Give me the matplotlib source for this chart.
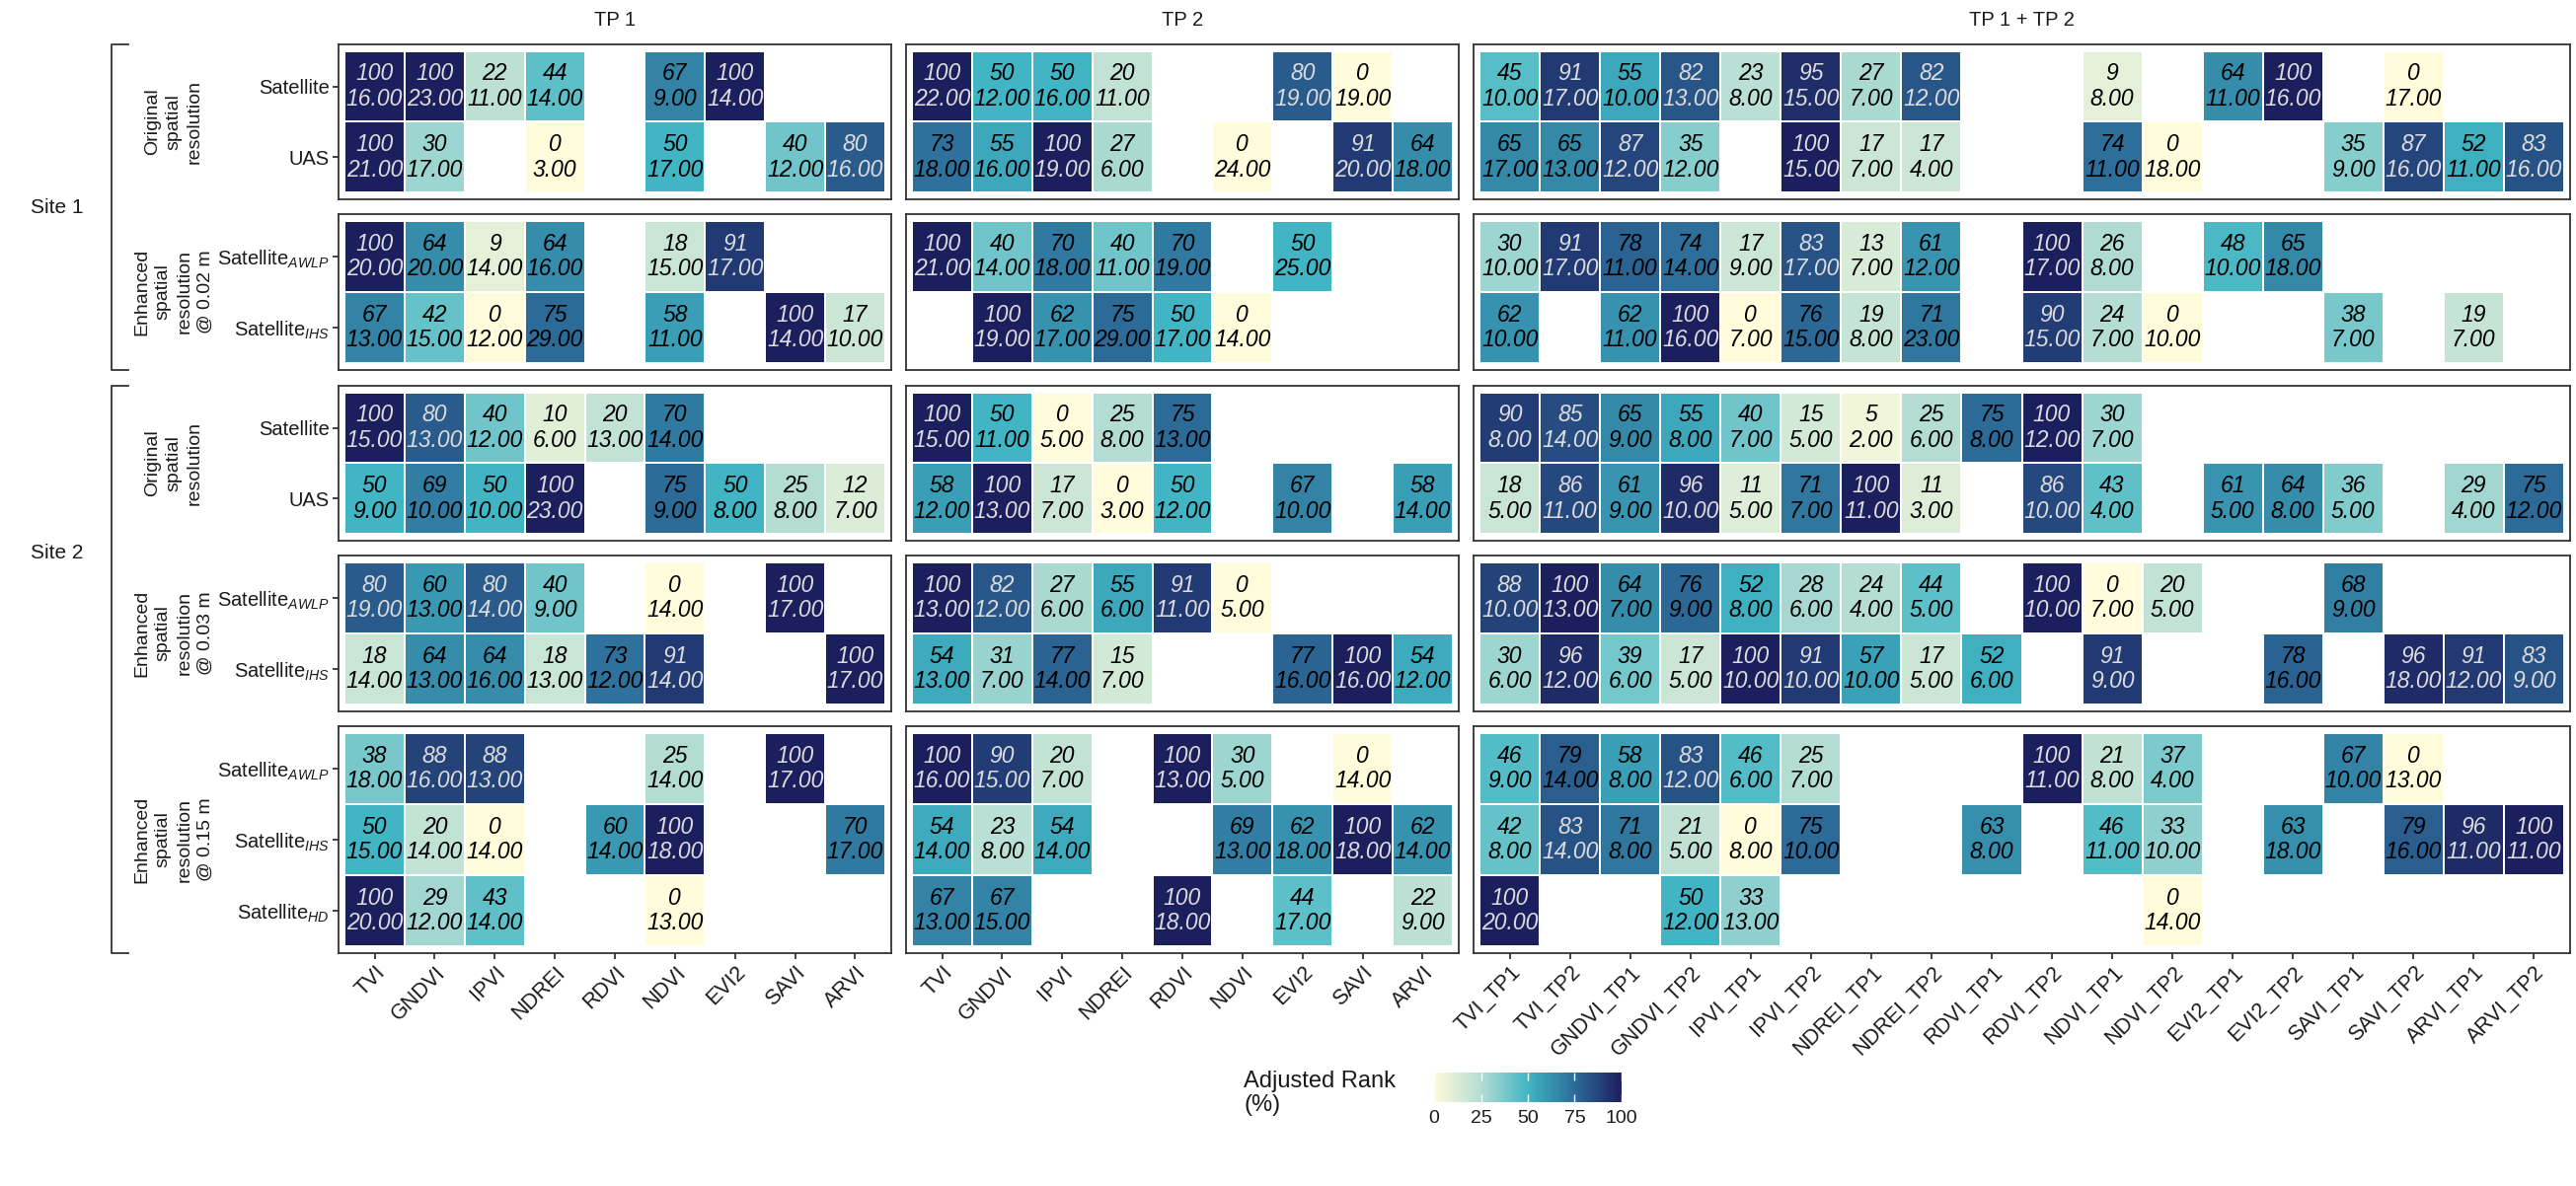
import numpy as np
import matplotlib
matplotlib.use("Agg")
import matplotlib.pyplot as plt
from matplotlib.colors import LinearSegmentedColormap
from matplotlib.lines import Line2D
from matplotlib.cm import ScalarMappable
from matplotlib.colors import Normalize

plt.rcParams['font.family'] = ['Liberation Sans', 'DejaVu Sans']
plt.rcParams['mathtext.fontset'] = 'custom'
plt.rcParams['mathtext.rm'] = 'Liberation Sans'
plt.rcParams['mathtext.it'] = 'Liberation Sans:italic'

N = np.nan

indices = ["TVI", "GNDVI", "IPVI", "NDREI", "RDVI", "NDVI", "EVI2", "SAVI", "ARVI"]
indices_both = ["TVI_TP1", "TVI_TP2", "GNDVI_TP1", "GNDVI_TP2", "IPVI_TP1", "IPVI_TP2",
                "NDREI_TP1", "NDREI_TP2", "RDVI_TP1", "RDVI_TP2", "NDVI_TP1", "NDVI_TP2",
                "EVI2_TP1", "EVI2_TP2", "SAVI_TP1", "SAVI_TP2", "ARVI_TP1", "ARVI_TP2"]
col_titles = ["TP 1", "TP 2", "TP 1 + TP 2"]

row_titles = ["Original\nspatial\nresolution",
              "Enhanced\nspatial\nresolution\n@ 0.02 m",
              "Original\nspatial\nresolution",
              "Enhanced\nspatial\nresolution\n@ 0.03 m",
              "Enhanced\nspatial\nresolution\n@ 0.15 m"]
row_labels = [["Satellite", "UAS"],
              ["Satellite$_{AWLP}$", "Satellite$_{IHS}$"],
              ["Satellite", "UAS"],
              ["Satellite$_{AWLP}$", "Satellite$_{IHS}$"],
              ["Satellite$_{AWLP}$", "Satellite$_{IHS}$", "Satellite$_{HD}$"]]
sites = ["Site 1", "Site 2"]

# ---- site 1, original resolution (Satellite, UAS)
s1o_tp1_rank = [[100, 100, 22, 44, N, 67, 100, N, N],
                [100, 30, N, 0, N, 50, N, 40, 80]]
s1o_tp1_val = [[16, 23, 11, 14, N, 9, 14, N, N],
               [21, 17, N, 3, N, 17, N, 12, 16]]
s1o_tp2_rank = [[100, 50, 50, 20, N, N, 80, 0, N],
                [73, 55, 100, 27, N, 0, N, 91, 64]]
s1o_tp2_val = [[22, 12, 16, 11, N, N, 19, 19, N],
               [18, 16, 19, 6, N, 24, N, 20, 18]]
s1o_both_rank = [[45, 91, 55, 82, 23, 95, 27, 82, N, N, 9, N, 64, 100, N, 0, N, N],
                 [65, 65, 87, 35, N, 100, 17, 17, N, N, 74, 0, N, N, 35, 87, 52, 83]]
s1o_both_val = [[10, 17, 10, 13, 8, 15, 7, 12, N, N, 8, N, 11, 16, N, 17, N, N],
                [17, 13, 12, 12, N, 15, 7, 4, N, N, 11, 18, N, N, 9, 16, 11, 16]]

# ---- site 1, enhanced @ 0.02 m (AWLP, IHS)
s1e_tp1_rank = [[100, 64, 9, 64, N, 18, 91, N, N],
                [67, 42, 0, 75, N, 58, N, 100, 17]]
s1e_tp1_val = [[20, 20, 14, 16, N, 15, 17, N, N],
               [13, 15, 12, 29, N, 11, N, 14, 10]]
s1e_tp2_rank = [[100, 40, 70, 40, 70, N, 50, N, N],
                [N, 100, 62, 75, 50, 0, N, N, N]]
s1e_tp2_val = [[21, 14, 18, 11, 19, N, 25, N, N],
               [N, 19, 17, 29, 17, 14, N, N, N]]
s1e_both_rank = [[30, 91, 78, 74, 17, 83, 13, 61, N, 100, 26, N, 48, 65, N, N, N, N],
                 [62, N, 62, 100, 0, 76, 19, 71, N, 90, 24, 0, N, N, 38, N, 19, N]]
s1e_both_val = [[10, 17, 11, 14, 9, 17, 7, 12, N, 17, 8, N, 10, 18, N, N, N, N],
                [10, N, 11, 16, 7, 15, 8, 23, N, 15, 7, 10, N, N, 7, N, 7, N]]

# ---- site 2, original resolution (Satellite, UAS)
s2o_tp1_rank = [[100, 80, 40, 10, 20, 70, N, N, N],
                [50, 69, 50, 100, N, 75, 50, 25, 12]]
s2o_tp1_val = [[15, 13, 12, 6, 13, 14, N, N, N],
               [9, 10, 10, 23, N, 9, 8, 8, 7]]
s2o_tp2_rank = [[100, 50, 0, 25, 75, N, N, N, N],
                [58, 100, 17, 0, 50, N, 67, N, 58]]
s2o_tp2_val = [[15, 11, 5, 8, 13, N, N, N, N],
               [12, 13, 7, 3, 12, N, 10, N, 14]]
s2o_both_rank = [[90, 85, 65, 55, 40, 15, 5, 25, 75, 100, 30, N, N, N, N, N, N, N],
                 [18, 86, 61, 96, 11, 71, 100, 11, N, 86, 43, N, 61, 64, 36, N, 29, 75]]
s2o_both_val = [[8, 14, 9, 8, 7, 5, 2, 6, 8, 12, 7, N, N, N, N, N, N, N],
                [5, 11, 9, 10, 5, 7, 11, 3, N, 10, 4, N, 5, 8, 5, N, 4, 12]]

# ---- site 2, enhanced @ 0.03 m (AWLP, IHS)
s2a_tp1_rank = [[80, 60, 80, 40, N, 0, N, 100, N],
                [18, 64, 64, 18, 73, 91, N, N, 100]]
s2a_tp1_val = [[19, 13, 14, 9, N, 14, N, 17, N],
               [14, 13, 16, 13, 12, 14, N, N, 17]]
s2a_tp2_rank = [[100, 82, 27, 55, 91, 0, N, N, N],
                [54, 31, 77, 15, N, N, 77, 100, 54]]
s2a_tp2_val = [[13, 12, 6, 6, 11, 5, N, N, N],
               [13, 7, 14, 7, N, N, 16, 16, 12]]
s2a_both_rank = [[88, 100, 64, 76, 52, 28, 24, 44, N, 100, 0, 20, N, N, 68, N, N, N],
                 [30, 96, 39, 17, 100, 91, 57, 17, 52, N, 91, N, N, 78, N, 96, 91, 83]]
s2a_both_val = [[10, 13, 7, 9, 8, 6, 4, 5, N, 10, 7, 5, N, N, 9, N, N, N],
                [6, 12, 6, 5, 10, 10, 10, 5, 6, N, 9, N, N, 16, N, 18, 12, 9]]

# ---- site 2, enhanced @ 0.15 m (AWLP, IHS, HD)
s2b_tp1_rank = [[38, 88, 88, N, N, 25, N, 100, N],
                [50, 20, 0, N, 60, 100, N, N, 70],
                [100, 29, 43, N, N, 0, N, N, N]]
s2b_tp1_val = [[18, 16, 13, N, N, 14, N, 17, N],
               [15, 14, 14, N, 14, 18, N, N, 17],
               [20, 12, 14, N, N, 13, N, N, N]]
s2b_tp2_rank = [[100, 90, 20, N, 100, 30, N, 0, N],
                [54, 23, 54, N, N, 69, 62, 100, 62],
                [67, 67, N, N, 100, N, 44, N, 22]]
s2b_tp2_val = [[16, 15, 7, N, 13, 5, N, 14, N],
               [14, 8, 14, N, N, 13, 18, 18, 14],
               [13, 15, N, N, 18, N, 17, N, 9]]
s2b_both_rank = [[46, 79, 58, 83, 46, 25, N, N, N, 100, 21, 37, N, N, 67, 0, N, N],
                 [42, 83, 71, 21, 0, 75, N, N, 63, N, 46, 33, N, 63, N, 79, 96, 100],
                 [100, N, N, 50, 33, N, N, N, N, N, N, 0, N, N, N, N, N, N]]
s2b_both_val = [[9, 14, 8, 12, 6, 7, N, N, N, 11, 8, 4, N, N, 10, 13, N, N],
                [8, 14, 8, 5, 8, 10, N, N, 8, N, 11, 10, N, 18, N, 16, 11, 11],
                [20, N, N, 12, 13, N, N, N, N, N, N, 14, N, N, N, N, N, N]]

panels = [
    [(s1o_tp1_rank, s1o_tp1_val), (s1o_tp2_rank, s1o_tp2_val), (s1o_both_rank, s1o_both_val)],
    [(s1e_tp1_rank, s1e_tp1_val), (s1e_tp2_rank, s1e_tp2_val), (s1e_both_rank, s1e_both_val)],
    [(s2o_tp1_rank, s2o_tp1_val), (s2o_tp2_rank, s2o_tp2_val), (s2o_both_rank, s2o_both_val)],
    [(s2a_tp1_rank, s2a_tp1_val), (s2a_tp2_rank, s2a_tp2_val), (s2a_both_rank, s2a_both_val)],
    [(s2b_tp1_rank, s2b_tp1_val), (s2b_tp2_rank, s2b_tp2_val), (s2b_both_rank, s2b_both_val)],
]
col_ticks = [indices, indices, indices_both]

cmap = LinearSegmentedColormap.from_list(
    "rank", ["#fffbdb", "#b3dcd3", "#41b6c4", "#2c6b98", "#1c1f5e"])

W, H = 2610, 1202
fig = plt.figure(figsize=(W / 100, H / 100), dpi=100)

col_x = [(343, 903), (918, 1478), (1493, 2604)]
row_y = [(45, 202), (217, 375), (391, 548), (563, 721), (736, 966)]


def px_axes(x0, x1, y0, y1):
    return fig.add_axes([x0 / W, 1 - y1 / H, (x1 - x0) / W, (y1 - y0) / H])


def draw_panel(ax, rank, val):
    r = np.array(rank, dtype=float)
    v = np.array(val, dtype=float)
    nr, nc = r.shape
    ax.pcolormesh(np.arange(nc + 1) - 0.5, np.arange(nr + 1) - 0.5,
                  np.ma.masked_invalid(r), cmap=cmap, vmin=0, vmax=100,
                  edgecolors="white", linewidth=1.2)
    for i in range(nr):
        for j in range(nc):
            if np.isnan(r[i, j]):
                continue
            c = "#dcdcdc" if r[i, j] >= 80 else "black"
            ax.text(j, i, "%d\n%.2f" % (r[i, j], v[i, j]), ha="center", va="center",
                    fontsize=16.5, style="italic", color=c, linespacing=1.15)
    ax.set_xlim(-0.6, nc - 0.4)
    ax.set_ylim(nr - 0.4, -0.6)
    for s in ax.spines.values():
        s.set_color("#333333")
        s.set_linewidth(1.3)
    ax.tick_params(length=4, width=1.3, color="#333333", labelcolor="#1a1a1a", pad=2.5)
    ax.tick_params(axis="y", labelsize=14.5)
    ax.tick_params(axis="x", labelsize=15.5)
    ax.set_xticks([])
    ax.set_yticks([])
    return nr, nc


for ri, (y0, y1) in enumerate(row_y):
    for ci, (x0, x1) in enumerate(col_x):
        ax = px_axes(x0, x1, y0, y1)
        rank, val = panels[ri][ci]
        nr, nc = draw_panel(ax, rank, val)
        if ci == 0:
            ax.set_yticks(range(nr))
            ax.set_yticklabels(row_labels[ri])
        if ri == len(row_y) - 1:
            ax.set_xticks(range(nc))
            ax.set_xticklabels(col_ticks[ci], rotation=45, ha="right", va="top",
                               rotation_mode="anchor")

for ci, (x0, x1) in enumerate(col_x):
    fig.text((x0 + x1) / 2 / W, 1 - 20 / H, col_titles[ci], ha="center", va="center",
             fontsize=14.5, color="#1a1a1a")

for ri, (y0, y1) in enumerate(row_y):
    fig.text(176 / W, 1 - (y0 + y1) / 2 / H, row_titles[ri], rotation=90, ha="center",
             va="center", multialignment="center", fontsize=14, color="#1a1a1a",
             linespacing=1.35)

# site brackets
for (y0, y1), ty, name in [((45, 375), 210, sites[0]), ((391, 966), 560, sites[1])]:
    xs = np.array([130, 113, 113, 130]) / W
    ys = 1 - np.array([y0, y0, y1, y1]) / H
    fig.add_artist(Line2D(xs, ys, color="#333333", lw=1.3))
    fig.text(58 / W, 1 - ty / H, name, ha="center", va="center", fontsize=15,
             color="#1a1a1a")

# colour bar
cax = px_axes(1453, 1643, 1087, 1117)
cb = fig.colorbar(ScalarMappable(norm=Normalize(0, 100), cmap=cmap), cax=cax,
                  orientation="horizontal", ticks=[0, 25, 50, 75, 100])
cb.outline.set_visible(False)
cax.tick_params(direction="in", color="white", length=6, width=1, top=True,
                labelsize=14, labelcolor="#1a1a1a", pad=6)
fig.text(1260 / W, 1 - 1108 / H, "Adjusted Rank\n(%)", ha="left", va="center",
         fontsize=17, color="#1a1a1a", linespacing=1.15)

fig.savefig("out.png", dpi=100)
